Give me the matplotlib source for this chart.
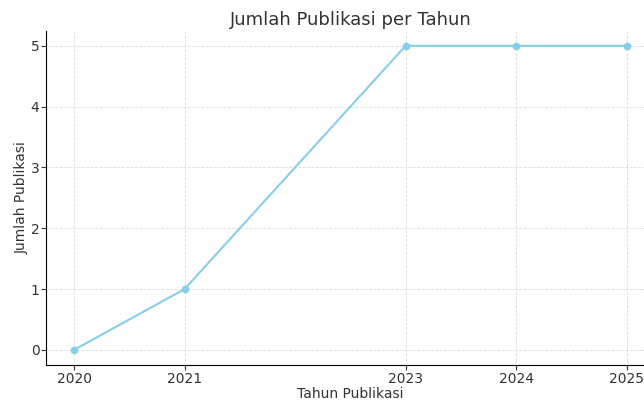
import matplotlib
matplotlib.use("Agg")
import matplotlib.pyplot as plt

# publikasi per tahun
tahun = [2020, 2021, 2023, 2024, 2025]
jumlah = [0, 1, 5, 5, 5]

fig = plt.figure(figsize=(6.44, 4.03), dpi=100)
ax = fig.add_axes([0.072, 0.094, 0.944, 0.830])

ax.plot(tahun, jumlah, marker='o', markersize=4.5, color='skyblue', linewidth=1.5)
ax.set_title("Jumlah Publikasi per Tahun", fontsize=13, color='#333333', pad=4)
ax.set_xlabel("Tahun Publikasi", fontsize=10, color='#333333', labelpad=1)
ax.set_ylabel("Jumlah Publikasi", fontsize=10, color='#333333', labelpad=1)
ax.set_xticks(tahun)
ax.tick_params(labelsize=10, colors='#333333', pad=1.5)
ax.grid(True, linestyle='--', linewidth=0.6, color='#dddddd')
ax.spines['top'].set_visible(False)
ax.spines['right'].set_visible(False)

fig.savefig("out.png", dpi=100)
